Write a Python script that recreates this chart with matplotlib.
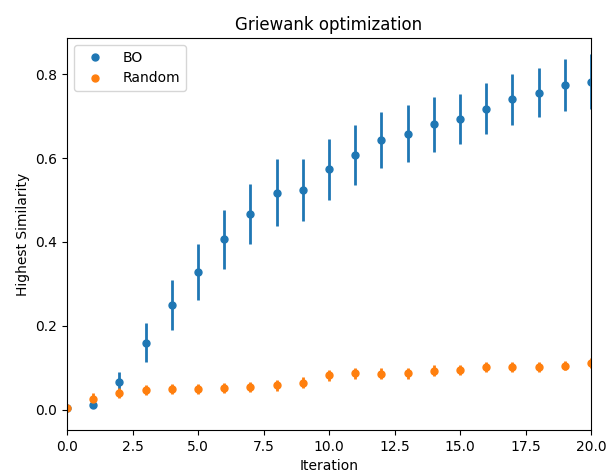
import matplotlib
matplotlib.use("Agg")
import matplotlib.pyplot as plt
from matplotlib.lines import Line2D

iterations = list(range(21))
bo_mean = [0.005, 0.012, 0.066, 0.160, 0.250, 0.328, 0.406, 0.467, 0.517, 0.524, 0.573,
           0.607, 0.643, 0.658, 0.680, 0.693, 0.718, 0.740, 0.756, 0.774, 0.782]
bo_err = [0.003, 0.006, 0.025, 0.047, 0.059, 0.067, 0.070, 0.071, 0.080, 0.074, 0.072,
          0.072, 0.067, 0.068, 0.066, 0.060, 0.061, 0.061, 0.059, 0.063, 0.065]
rnd_mean = [0.005, 0.026, 0.041, 0.047, 0.049, 0.050, 0.052, 0.054, 0.059, 0.065, 0.082,
            0.087, 0.086, 0.087, 0.093, 0.095, 0.102, 0.102, 0.102, 0.105, 0.111]
rnd_err = [0.004, 0.015, 0.012, 0.012, 0.012, 0.012, 0.012, 0.012, 0.013, 0.013, 0.013,
           0.013, 0.013, 0.013, 0.013, 0.012, 0.012, 0.012, 0.011, 0.011, 0.012]

fig = plt.figure(figsize=(6.06, 4.70), dpi=100)
ax = fig.add_axes([67/606, 40/470, 524/606, 392/470])

ax.errorbar(iterations, bo_mean, yerr=bo_err, fmt='o', color='tab:blue',
            markersize=5, elinewidth=2)
ax.errorbar(iterations, rnd_mean, yerr=rnd_err, fmt='o', color='tab:orange',
            markersize=5, elinewidth=2)

ax.set_xlim(0, 20)
ax.set_ylim(-0.048, 0.886)
ax.set_title('Griewank optimization')
ax.set_xlabel('Iteration')
ax.set_ylabel('Highest Similarity')

handles = [Line2D([], [], marker='o', linestyle='none', color='tab:blue', markersize=5),
           Line2D([], [], marker='o', linestyle='none', color='tab:orange', markersize=5)]
ax.legend(handles, ['BO', 'Random'], loc='upper left', handlelength=2.3)

fig.savefig('out.png', dpi=100)
